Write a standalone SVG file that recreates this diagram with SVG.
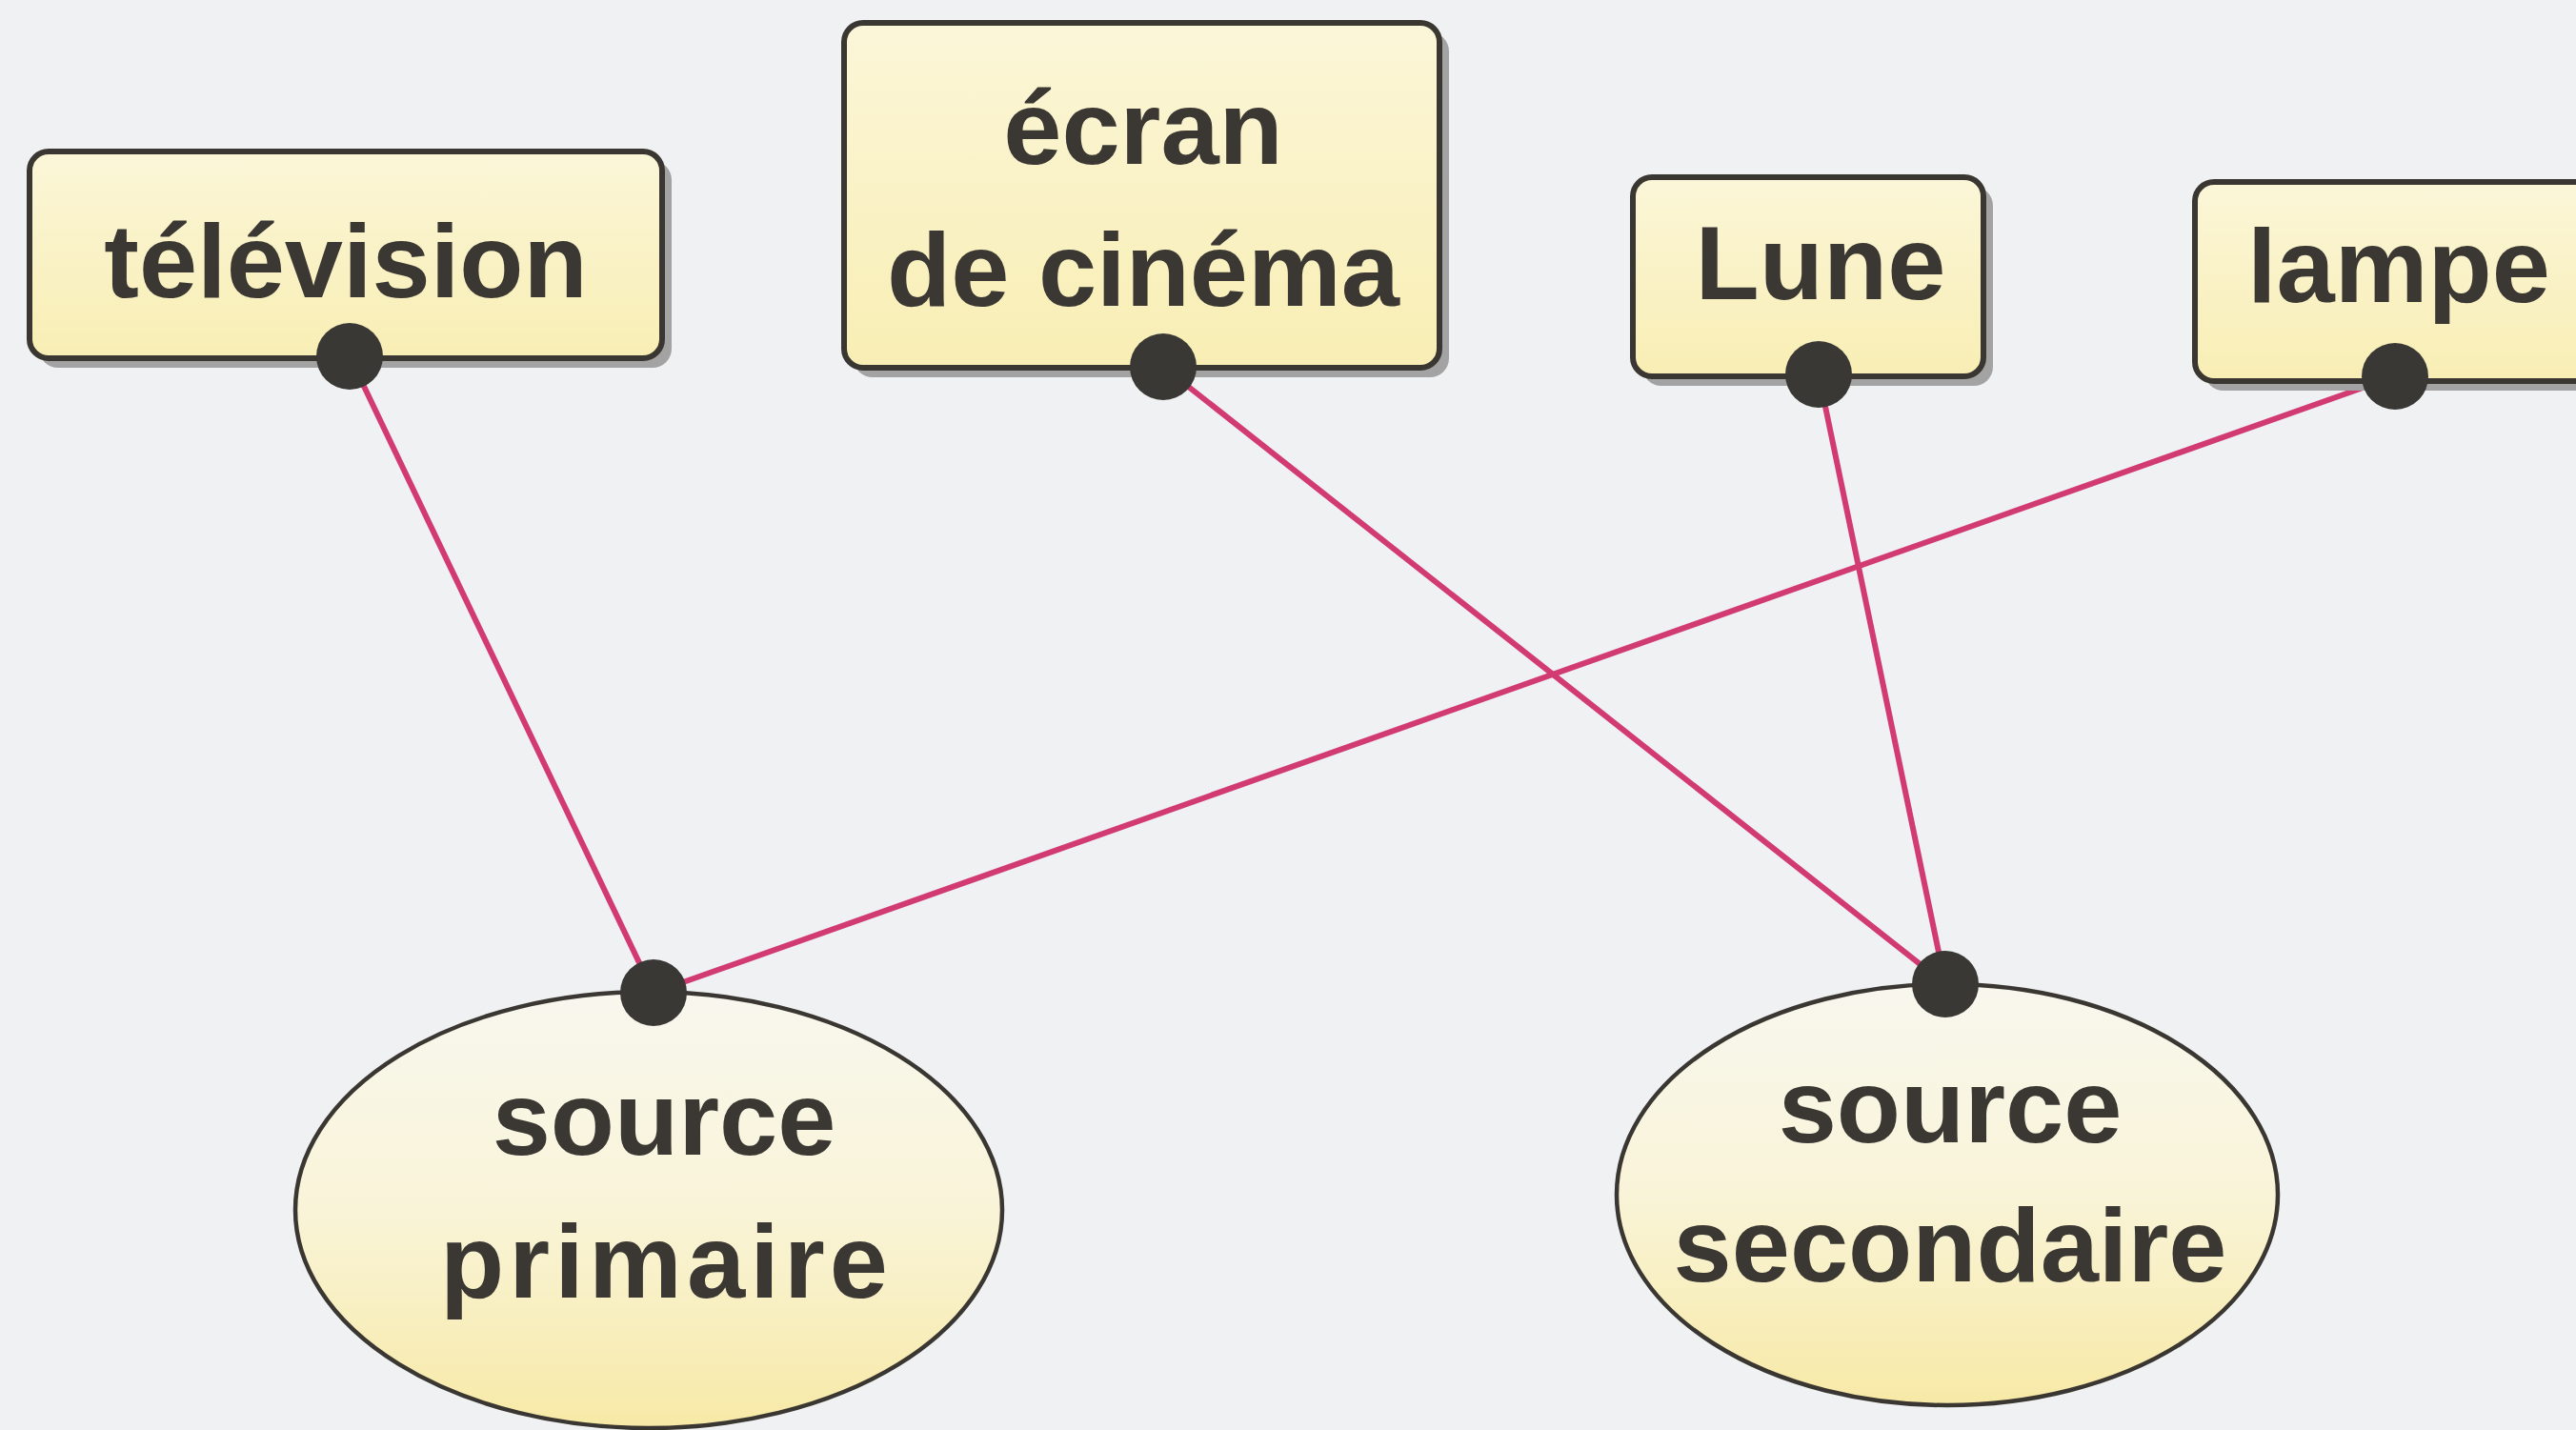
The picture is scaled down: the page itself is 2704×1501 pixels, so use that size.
<svg xmlns="http://www.w3.org/2000/svg" width="2704" height="1501" viewBox="0 0 2704 1501">
<defs>
<linearGradient id="boxFill" x1="0" y1="0" x2="0" y2="1">
<stop offset="0" stop-color="#fbf6d8"/>
<stop offset="1" stop-color="#f8eeb4"/>
</linearGradient>
<linearGradient id="ellFill" x1="0" y1="0" x2="0" y2="1">
<stop offset="0" stop-color="#f8f7ee"/>
<stop offset="0.5" stop-color="#f9f4d8"/>
<stop offset="1" stop-color="#f7e9a6"/>
</linearGradient>
</defs>
<style>
.bg{fill:#eff1f3}
.shadow{fill:#a3a3a3}
.box{fill:url(#boxFill);stroke:#3a3631;stroke-width:6}
.ell{fill:url(#ellFill);stroke:#3a3631;stroke-width:4.5}
.lbl{font-family:"Liberation Sans",Arial,sans-serif;font-weight:bold;font-size:110px;fill:#3b3834;text-anchor:middle}
.link{stroke:#d23a72;stroke-width:6;fill:none;stroke-linecap:round}
.dot{fill:#3a3835}
</style>
<rect class="bg" x="0" y="0" width="2704" height="1501"/>
<g id="connectors">
<line class="link" x1="367" y1="374" x2="686" y2="1042"/>
<line class="link" x1="1221" y1="385" x2="2042" y2="1033"/>
<line class="link" x1="1909" y1="393" x2="2042" y2="1033"/>
<line class="link" x1="2514" y1="395" x2="686" y2="1042"/>
</g>
<g id="television">
<rect class="shadow" x="41" y="169" width="664" height="217" rx="20"/>
<rect class="box" x="31" y="159" width="664" height="217" rx="20"/>
<text class="lbl" x="363" y="312">télévision</text>
<circle class="dot" cx="367" cy="374" r="35"/>
</g>
<g id="ecran">
<rect class="shadow" x="896" y="34" width="625" height="362" rx="20"/>
<rect class="box" x="886" y="24" width="625" height="362" rx="20"/>
<text class="lbl" x="1200" y="172">écran</text>
<text class="lbl" x="1200" y="321">de cinéma</text>
<circle class="dot" cx="1221" cy="385" r="35"/>
</g>
<g id="lune">
<rect class="shadow" x="1724" y="196" width="368" height="209" rx="20"/>
<rect class="box" x="1714" y="186" width="368" height="209" rx="20"/>
<text class="lbl" x="1911" y="314">Lune</text>
<circle class="dot" cx="1909" cy="393" r="35"/>
</g>
<g id="lampe">
<rect class="shadow" x="2314" y="201" width="430" height="209" rx="20"/>
<rect class="box" x="2304" y="191" width="430" height="209" rx="20"/>
<text class="lbl" x="2359" y="317" style="text-anchor:start">lampe</text>
<circle class="dot" cx="2514" cy="395" r="35"/>
</g>
<g id="source-primaire">
<ellipse class="ell" cx="681" cy="1270" rx="371" ry="229"/>
<text class="lbl" x="697" y="1212">source</text>
<text class="lbl" x="697" y="1362" textLength="470" lengthAdjust="spacing">primaire</text>
<circle class="dot" cx="686" cy="1042" r="35"/>
</g>
<g id="source-secondaire">
<ellipse class="ell" cx="2044" cy="1254" rx="347" ry="221"/>
<text class="lbl" x="2047" y="1199">source</text>
<text class="lbl" x="2047" y="1345">secondaire</text>
<circle class="dot" cx="2042" cy="1033" r="35"/>
</g>
</svg>
